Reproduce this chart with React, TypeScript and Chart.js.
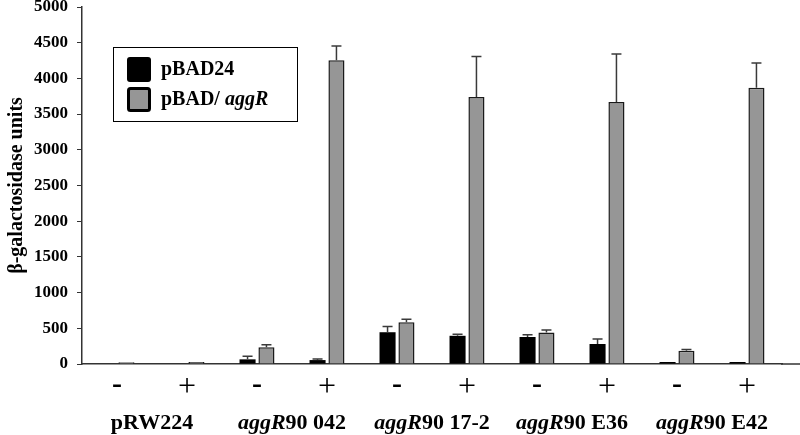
import React, { useEffect, useRef } from "react";
import { Chart, registerables } from "chart.js";

Chart.register(...registerables);

const categories = ["-", "+", "-", "+", "-", "+", "-", "+", "-", "+"];
const groupLabels: [string, string][] = [
  ["", "pRW224"],
  ["aggR", "90 042"],
  ["aggR", "90 17-2"],
  ["aggR", "90 E36"],
  ["aggR", "90 E42"],
];
const pBAD24 = [0, 0, 65, 55, 445, 395, 378, 280, 28, 28];
const pBAD24Err = [0, 0, 45, 15, 80, 22, 32, 70, 0, 0];
const pBADaggR = [25, 28, 235, 4255, 585, 3740, 440, 3670, 185, 3870];
const pBADaggRErr = [0, 0, 35, 200, 42, 565, 36, 672, 18, 345];

const SERIF = "'Liberation Serif', 'Times New Roman', serif";
const GRAY = "#969696";

const errorBars = {
  id: "errorBars",
  afterDatasetsDraw(chart: any) {
    const ctx = chart.ctx;
    const y = chart.scales.y;
    const errs = [pBAD24Err, pBADaggRErr];
    const vals = [pBAD24, pBADaggR];
    ctx.save();
    ctx.strokeStyle = "#3a3a3a";
    ctx.lineWidth = 1.5;
    chart.data.datasets.forEach((_d: any, di: number) => {
      const meta = chart.getDatasetMeta(di);
      meta.data.forEach((bar: any, i: number) => {
        const e = errs[di][i];
        if (!e) return;
        const top = y.getPixelForValue(vals[di][i] + e);
        ctx.beginPath();
        ctx.moveTo(bar.x, bar.y);
        ctx.lineTo(bar.x, top);
        ctx.moveTo(bar.x - 5, top);
        ctx.lineTo(bar.x + 5, top);
        ctx.stroke();
      });
    });
    ctx.restore();
  },
};

const decorations = {
  id: "decorations",
  afterDraw(chart: any) {
    const ctx = chart.ctx;
    const area = chart.chartArea;
    const x = chart.scales.x;
    ctx.save();
    ctx.strokeStyle = "#333";
    ctx.lineWidth = 1.5;
    ctx.beginPath();
    ctx.moveTo(area.right - 1, area.bottom);
    ctx.lineTo(chart.width, area.bottom);
    ctx.stroke();

    ctx.fillStyle = "#000";
    ctx.textAlign = "center";
    ctx.textBaseline = "middle";
    categories.forEach((c, i) => {
      const px = x.getPixelForValue(i);
      if (c === "-") {
        ctx.font = `bold 30px ${SERIF}`;
        ctx.fillText("-", px, 385);
      } else {
        ctx.font = `32px ${SERIF}`;
        ctx.fillText("+", px, 388);
      }
    });

    ctx.textAlign = "left";
    const gf = 22;
    groupLabels.forEach(([it, rest], g) => {
      const cx = (x.getPixelForValue(2 * g) + x.getPixelForValue(2 * g + 1)) / 2;
      ctx.font = `italic bold ${gf}px ${SERIF}`;
      const w1 = it ? ctx.measureText(it).width : 0;
      ctx.font = `bold ${gf}px ${SERIF}`;
      const w2 = ctx.measureText(rest).width;
      let sx = cx - (w1 + w2) / 2;
      if (it) {
        ctx.font = `italic bold ${gf}px ${SERIF}`;
        ctx.fillText(it, sx, 423);
        sx += w1;
      }
      ctx.font = `bold ${gf}px ${SERIF}`;
      ctx.fillText(rest, sx, 423);
    });

    ctx.strokeStyle = "#000";
    ctx.lineWidth = 1;
    ctx.strokeRect(113.5, 47.5, 184, 74);
    ctx.fillStyle = "#000";
    ctx.beginPath();
    (ctx as any).roundRect(127, 57, 24, 25, 3);
    ctx.fill();
    ctx.beginPath();
    (ctx as any).roundRect(128.5, 88.5, 21, 22, 2);
    ctx.fillStyle = GRAY;
    ctx.fill();
    ctx.lineWidth = 3;
    ctx.strokeStyle = "#000";
    ctx.stroke();
    ctx.fillStyle = "#000";
    ctx.textBaseline = "middle";
    ctx.font = `bold 20px ${SERIF}`;
    ctx.fillText("pBAD24", 161, 70);
    const t1 = "pBAD/ ";
    ctx.fillText(t1, 161, 100);
    const w = ctx.measureText(t1).width;
    ctx.font = `italic bold 20px ${SERIF}`;
    ctx.fillText("aggR", 161 + w, 100);
    ctx.restore();
  },
};

export default function App() {
  const ref = useRef<HTMLCanvasElement | null>(null);
  useEffect(() => {
    if (!ref.current) return;
    const chart = new Chart(ref.current, {
      type: "bar",
      data: {
        labels: categories,
        datasets: [
          {
            label: "pBAD24",
            data: pBAD24,
            backgroundColor: "#000",
            borderWidth: 0,
            barPercentage: 0.85,
            categoryPercentage: 0.54,
          },
          {
            label: "pBAD/ aggR",
            data: pBADaggR,
            backgroundColor: GRAY,
            borderColor: "#1a1a1a",
            borderWidth: 1.5,
            barPercentage: 0.85,
            categoryPercentage: 0.54,
          },
        ],
      },
      options: {
        animation: false,
        responsive: true,
        maintainAspectRatio: false,
        layout: { padding: { left: 0, right: 18, top: 7, bottom: 0 } },
        plugins: {
          legend: { display: false },
          tooltip: { enabled: false },
        },
        scales: {
          x: {
            grid: { display: false },
            border: { display: true, color: "#333", width: 1.5 },
            ticks: { display: false },
            afterFit: (s: any) => {
              s.height = 71;
            },
          },
          y: {
            min: 0,
            max: 5000,
            ticks: {
              stepSize: 500,
              color: "#000",
              padding: 9,
              callback: (v: any) => String(v),
              font: { family: SERIF, size: 17, weight: "bold", lineHeight: 0.82 },
            },
            grid: { drawOnChartArea: false, drawTicks: true, tickLength: 5, color: "#333" },
            border: { display: true, color: "#333", width: 1.5 },
            title: {
              display: true,
              text: "β-galactosidase units",
              color: "#000",
              font: { family: SERIF, size: 20, weight: "bold" },
              padding: { top: 5, bottom: 0 },
            },
            afterFit: (s: any) => {
              s.width = 82;
              s.paddingTop = 7;
              s.paddingBottom = 0;
            },
          },
        },
      },
      plugins: [errorBars, decorations],
    });
    return () => chart.destroy();
  }, []);
  return (
    <div style={{ position: "fixed", left: 0, top: 0, width: 800, height: 435, background: "#fff" }}>
      <canvas ref={ref} />
    </div>
  );
}
